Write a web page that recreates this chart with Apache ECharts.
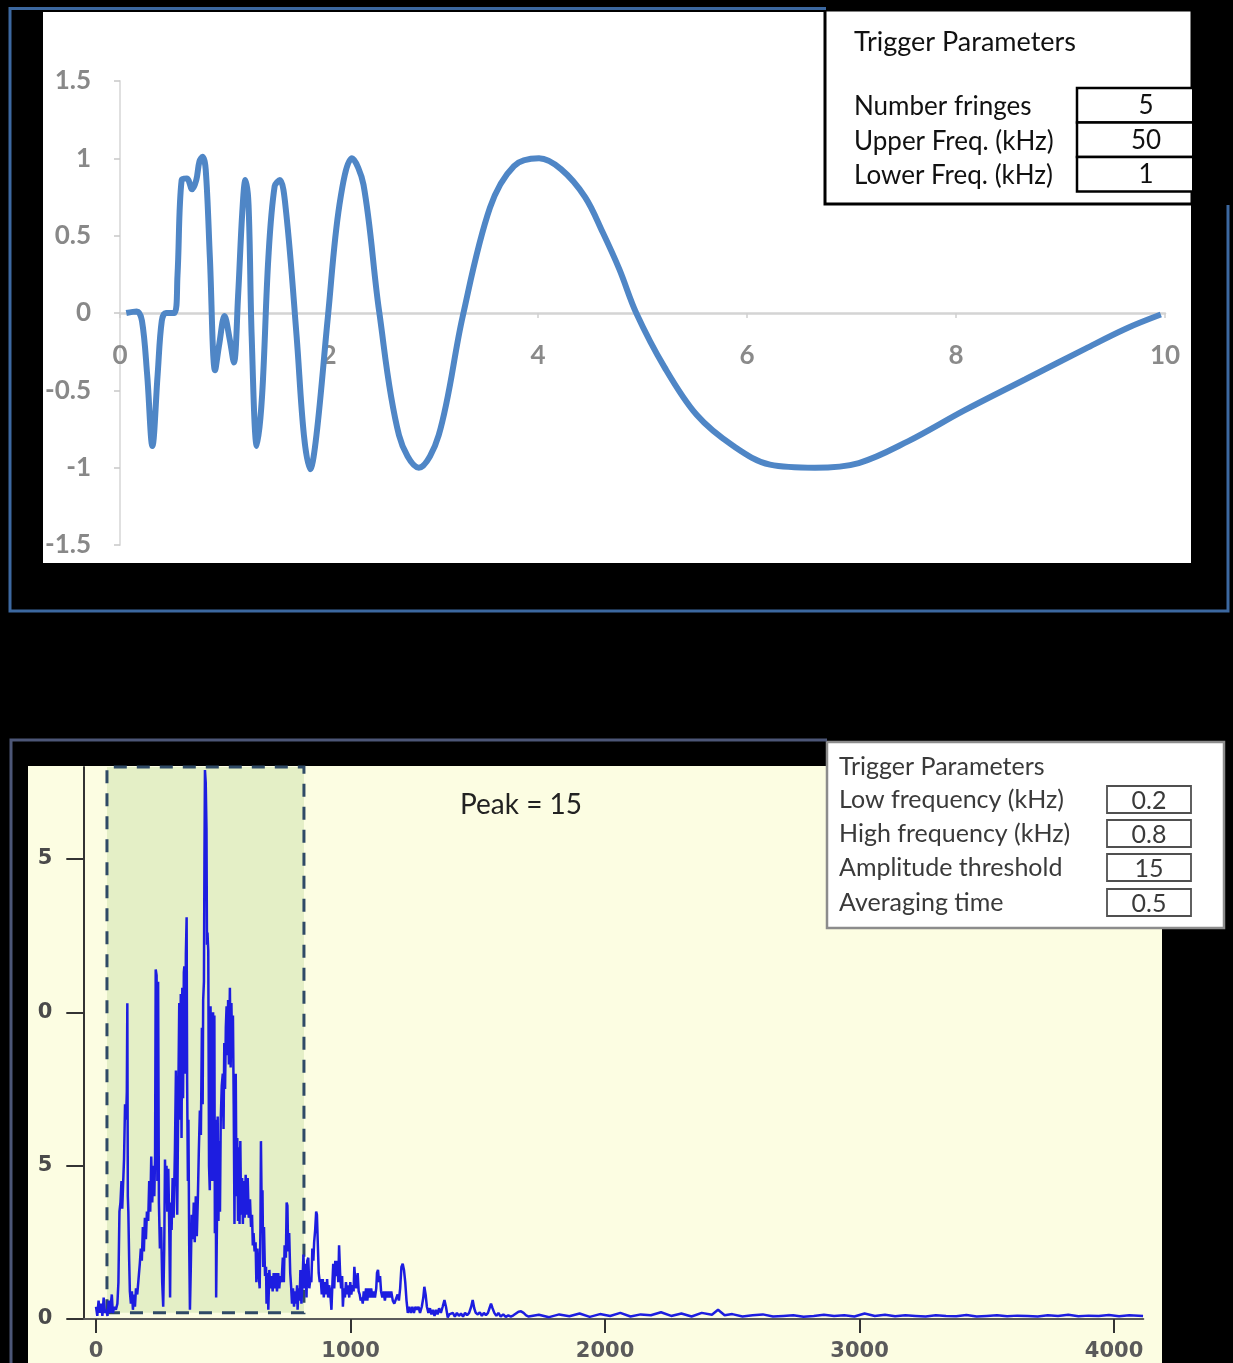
<!DOCTYPE html>
<html>
<head>
<meta charset="utf-8">
<script src="https://cdn.jsdelivr.net/npm/echarts@6/dist/echarts.min.js"></script>
<style>html,body{margin:0;padding:0;background:#000;}#c{width:1233px;height:1363px;}</style>
</head>
<body>
<div id="c"></div>
<script>
// ---- Top chart: trigger waveform (time ms vs amplitude) ----
const chirpPoints = [
  [0.06,0],[0.16,0.01],[0.21,-0.05],[0.26,-0.40],[0.31,-0.86],[0.36,-0.40],[0.40,-0.05],[0.44,0],[0.52,0],
  [0.55,0.24],[0.59,0.86],[0.64,0.87],[0.69,0.80],[0.73,0.86],[0.76,0.98],[0.79,1.01],[0.82,0.93],[0.86,0.36],
  [0.91,-0.37],[0.95,-0.20],[1.00,-0.02],[1.05,-0.17],[1.09,-0.32],[1.13,0.11],[1.17,0.65],[1.20,0.86],[1.23,0.70],
  [1.26,-0.15],[1.31,-0.86],[1.36,-0.53],[1.42,0.36],[1.48,0.82],[1.53,0.86],[1.59,0.65],[1.69,-0.15],[1.76,-0.79],
  [1.82,-1.01],[1.88,-0.79],[1.99,-0.02],[2.10,0.70],[2.22,1.0],[2.33,0.83],[2.48,0.01],[2.67,-0.79],[2.86,-1.0],
  [3.05,-0.79],[3.28,-0.02],[3.54,0.68],[3.77,0.95],[4.01,1.0],[4.22,0.93],[4.45,0.75],[4.62,0.52],[4.78,0.28],
  [4.94,0],[5.21,-0.35],[5.52,-0.66],[5.87,-0.86],[6.22,-0.98],[6.65,-1.0],[7.07,-0.97],[7.54,-0.83],[8.08,-0.63],
  [8.66,-0.43],[9.24,-0.23],[9.63,-0.10],[9.96,-0.01]
];
const topXTicks = [0, 2, 4, 6, 8, 10];
const topYTicks = [-1.5, -1, -0.5, 0, 0.5, 1, 1.5];

// ---- Bottom chart: spectrum (frequency vs amplitude) ----
const spectrumPoints = [
  [0,0.4],[5,0.1],[10,0.6],[15,0.2],[20,0.5],[25,0.1],[30,0.7],[35,0.2],[40,0.3],[45,0.1],[50,0.6],[55,0.2],
  [62,0.8],[66,0.2],[72,0.4],[78,0.3],[84,0.5],[88,1.2],[92,3.5],[96,3.8],[100,4.5],[103,3.6],[106,4.3],[110,5.2],
  [114,7.0],[118,6.5],[121,7.4],[123,10.3],[125,4.0],[127,3.5],[130,2.0],[133,0.9],[137,0.5],[141,0.9],[145,0.3],
  [149,0.8],[153,0.4],[157,1.0],[162,0.8],[167,1.3],[172,1.8],[176,2.3],[180,1.9],[184,3.0],[188,2.2],[192,3.3],
  [196,2.6],[200,3.5],[205,3.2],[209,4.5],[213,3.5],[217,5.3],[221,3.8],[225,5.0],[229,4.0],[232,5.3],[234.5,11.4],
  [238,11.2],[241,4.5],[244,11.0],[247,3.8],[251,2.3],[256,3.0],[260,1.2],[264,0.4],[268,2.3],[271,5.2],[274,3.9],
  [277,5.0],[280,3.5],[284,4.9],[287,3.4],[291,0.7],[294,3.8],[297,2.9],[301,4.6],[305,3.3],[310,5.5],[314,8.1],
  [317,4.5],[319,3.4],[323,7.0],[327,10.3],[330,6.5],[333,10.6],[336,5.9],[339,10.8],[342,7.2],[345,11.3],[347,11.5],
  [350,8.0],[353,11.9],[356,13.1],[358,7.7],[361,4.5],[363,6.5],[366,2.5],[369,0.3],[372,1.5],[376,3.4],[380,2.6],
  [384,3.8],[388,2.5],[392,4.0],[396,2.7],[400,3.9],[404,5.5],[408,6.8],[412,6.0],[416,9.5],[419,7.0],[421,10.4],
  [424,11.0],[426,15.0],[428,17.9],[431,17.5],[434,16.0],[436,12.2],[438,12.6],[441,12.0],[444,5.0],[447,4.2],
  [450,10.2],[452,6.0],[454,9.5],[457,4.5],[460,10.0],[463,5.8],[465,9.9],[467,2.8],[470,6.5],[472,0.7],[475,3.0],
  [478,6.6],[481,3.2],[484,5.8],[487,3.5],[490,6.5],[494,7.6],[498,8.0],[501,6.2],[504,9.0],[507,7.5],[510,9.5],
  [513,10.2],[516,8.6],[519,10.4],[522,8.3],[526,10.8],[529,8.2],[532,10.3],[535,8.5],[538,9.9],[541,7.0],[544,3.1],
  [546,6.5],[549,8.0],[552,4.0],[555,5.9],[558,3.2],[561,5.6],[564,3.1],[567,5.8],[570,3.4],[574,4.6],[577,3.1],
  [580,4.5],[584,3.3],[588,4.7],[592,3.4],[596,4.6],[600,3.3],[605,3.9],[609,3.0],[613,3.4],[616,2.4],[619,2.8],
  [623,2.2],[627,2.5],[630,1.2],[634,2.3],[638,1.6],[643,1.0],[646,3.0],[648,5.8],[651,3.5],[654,4.2],[657,1.7],
  [660,3.0],[664,1.4],[668,1.7],[670,0.5],[674,1.5],[677,0.3],[681,1.6],[685,1.0],[690,1.4],[694,0.9],[698,1.5],
  [702,1.0],[707,1.5],[711,0.9],[716,1.5],[720,1.0],[724,1.4],[729,1.2],[734,2.0],[738,1.2],[741,2.4],[746,2.0],
  [749,3.8],[752,3.7],[755,2.2],[759,2.8],[763,1.5],[767,1.0],[770,0.5],[774,1.0],[778,0.4],[782,0.9],[786,0.5],
  [790,1.1],[792,0.3],[796,1.0],[800,0.6],[803,1.6],[807,0.5],[811,1.2],[815,2.1],[819,1.0],[823,1.8],[827,0.7],
  [830,1.9],[834,2.0],[838,1.0],[842,1.3],[846,1.2],[850,2.3],[854,1.9],[857,2.5],[861,2.9],[865,3.5],[868,3.4],
  [872,2.3],[875,1.5],[879,1.2],[883,1.3],[887,0.8],[891,1.3],[895,0.7],[899,1.2],[904,0.8],[908,1.3],[912,0.7],
  [916,1.1],[920,0.9],[925,0.3],[929,1.2],[932,1.8],[936,1.0],[940,1.9],[944,1.4],[948,1.9],[952,1.2],[955,2.4],
  [959,1.5],[963,1.0],[967,1.4],[970,0.4],[974,1.0],[978,0.7],[982,1.2],[986,0.8],[990,1.1],[995,0.7],[999,1.2],
  [1003,0.8],[1008,1.1],[1012,0.9],[1015,1.7],[1019,1.2],[1023,1.0],[1028,1.5],[1032,0.9],[1036,0.8],[1040,0.6],
  [1044,0.7],[1048,0.5],[1052,0.9],[1056,0.6],[1061,1.0],[1066,0.6],[1071,1.0],[1076,0.7],[1081,1.0],[1086,0.7],
  [1091,0.9],[1096,0.7],[1101,1.0],[1104,1.5],[1108,1.6],[1112,1.2],[1116,1.4],[1120,0.9],[1125,0.7],[1130,0.9],
  [1135,0.6],[1140,0.9],[1145,0.7],[1150,0.9],[1155,0.7],[1160,0.9],[1166,0.6],[1172,0.5],[1179,0.5],[1185,0.8],
  [1190,0.6],[1195,1.0],[1200,1.7],[1205,1.8],[1210,1.6],[1215,1.2],[1220,0.6],[1225,0.2],[1231,0.4],[1237,0.2],
  [1243,0.4],[1249,0.2],[1255,0.4],[1261,0.3],[1267,0.4],[1273,0.2],[1280,0.4],[1286,0.7],[1290,1.05],[1295,0.8],
  [1300,0.4],[1306,0.2],[1312,0.35],[1318,0.15],[1324,0.3],[1330,0.1],[1336,0.3],[1342,0.15],[1348,0.35],[1355,0.2],
  [1362,0.4],[1369,0.62],[1375,0.4],[1382,0.05],[1388,0.15],[1395,0.1],[1402,0.2],[1410,0.08],[1418,0.2],[1426,0.1],
  [1434,0.18],[1442,0.08],[1450,0.2],[1458,0.12],[1466,0.2],[1474,0.4],[1480,0.62],[1486,0.35],[1492,0.2],[1500,0.15],
  [1508,0.22],[1516,0.1],[1524,0.2],[1532,0.12],[1540,0.2],[1546,0.35],[1552,0.5],[1558,0.35],[1565,0.2],[1573,0.1],
  [1581,0.2],[1590,0.08],[1600,0.15],[1610,0.07],[1620,0.12],[1630,0.08],[1640,0.12],[1650,0.18],[1660,0.24],
  [1670,0.25],[1680,0.2],[1690,0.12],[1700,0.08],[1740,0.14],[1780,0.06],[1820,0.15],[1860,0.09],[1900,0.18],
  [1940,0.07],[1980,0.16],[2020,0.1],[2060,0.2],[2100,0.08],[2140,0.15],[2180,0.12],[2220,0.22],[2260,0.1],
  [2300,0.18],[2340,0.08],[2380,0.2],[2420,0.14],[2444,0.3],[2470,0.12],[2500,0.16],[2540,0.08],[2580,0.12],
  [2620,0.15],[2660,0.08],[2700,0.1],[2740,0.12],[2780,0.07],[2820,0.1],[2860,0.14],[2900,0.1],[2940,0.12],
  [2980,0.08],[3020,0.18],[3060,0.1],[3100,0.14],[3140,0.09],[3180,0.12],[3220,0.1],[3260,0.08],[3300,0.12],
  [3340,0.1],[3380,0.09],[3420,0.13],[3460,0.08],[3500,0.1],[3540,0.12],[3580,0.09],[3620,0.11],[3660,0.1],
  [3700,0.08],[3740,0.12],[3780,0.1],[3820,0.14],[3860,0.09],[3900,0.11],[3940,0.1],[3980,0.13],[4020,0.09],
  [4060,0.12],[4114,0.1]
];
const bottomXTicks = [0, 1000, 2000, 3000, 4000];
const bottomYTicks = [0, 5, 10, 15];
const passBand = [43, 817];      // highlighted band (x range)
const passBandY = [0.2, 18];     // highlighted band (y range)
const peakLabel = 'Peak = 15';

// ---- Parameter panels ----
const topParamTitle = 'Trigger Parameters';
const topParamNames = ['Number fringes', 'Upper Freq. (kHz)', 'Lower Freq. (kHz)'];
const topParamValues = ['5', '50', '1'];
const botParamTitle = 'Trigger Parameters';
const botParamNames = ['Low frequency (kHz)', 'High frequency (kHz)', 'Amplitude threshold', 'Averaging time'];
const botParamValues = ['0.2', '0.8', '15', '0.5'];

const chart = echarts.init(document.getElementById('c'), null, {renderer: 'canvas'});

const FONT_BOX = 'Lato, "Open Sans", sans-serif';
const g = [];
// backgrounds
g.push({type: 'rect', z: -1, shape: {x: 43, y: 12, width: 1148, height: 551}, style: {fill: '#ffffff'}});
g.push({type: 'rect', z: -1, shape: {x: 28, y: 766, width: 1134, height: 597}, style: {fill: '#fcfde2'}});
// masks that crop overflowing axis labels at the panel edges
g.push({type: 'rect', z: 50, shape: {x: 12, y: 12, width: 31, height: 552}, style: {fill: '#000'}});
g.push({type: 'rect', z: 50, shape: {x: 13, y: 766, width: 15, height: 597}, style: {fill: '#000'}});
g.push({type: 'rect', z: 50, shape: {x: 28, y: 830, width: 10, height: 200}, style: {fill: '#fcfde2'}});
// frames
g.push({type: 'polyline', z: 60, shape: {points: [[1228, 205], [1228, 611], [10, 611], [10, 8.5], [826, 8.5]]},
  style: {stroke: '#3c68a0', lineWidth: 3, fill: null}});
g.push({type: 'polyline', z: 60, shape: {points: [[11, 1363], [11, 740], [827, 740]]},
  style: {stroke: '#4c5677', lineWidth: 3, fill: null}});

// top parameter box
g.push({type: 'rect', z: 20, shape: {x: 825, y: 10, width: 367, height: 194}, style: {fill: '#fff', stroke: '#000', lineWidth: 3}});
g.push({type: 'text', z: 22, x: 854, y: 42, style: {text: topParamTitle, font: '27px ' + FONT_BOX, fill: '#111', textAlign: 'left', textVerticalAlign: 'middle'}});
const topRowsY = [88, 122.5, 157];
for (let i = 0; i < topParamNames.length; i++) {
  g.push({type: 'text', z: 22, x: 854, y: topRowsY[i] + 19, style: {text: topParamNames[i], font: '26px ' + FONT_BOX, fill: '#111', textAlign: 'left', textVerticalAlign: 'middle'}});
  g.push({type: 'rect', z: 21, shape: {x: 1077, y: topRowsY[i], width: 120, height: 34.5}, style: {fill: '#fff', stroke: '#000', lineWidth: 2.5}});
  g.push({type: 'text', z: 22, x: 1146, y: topRowsY[i] + 18, style: {text: topParamValues[i], font: '26px ' + FONT_BOX, fill: '#111', textAlign: 'center', textVerticalAlign: 'middle'}});
}
g.push({type: 'rect', z: 23, shape: {x: 1192, y: 5, width: 34, height: 202}, style: {fill: '#000'}});

// bottom parameter box
g.push({type: 'rect', z: 20, shape: {x: 827, y: 742, width: 397, height: 186}, style: {fill: '#fff', stroke: '#8c8c8c', lineWidth: 2.5}});
g.push({type: 'text', z: 22, x: 839, y: 767, style: {text: botParamTitle, font: '25px ' + FONT_BOX, fill: '#3a3a3a', textAlign: 'left', textVerticalAlign: 'middle'}});
const botRowsY = [800, 834, 868, 903];
for (let i = 0; i < botParamNames.length; i++) {
  g.push({type: 'text', z: 22, x: 839, y: botRowsY[i], style: {text: botParamNames[i], font: '25px ' + FONT_BOX, fill: '#3a3a3a', textAlign: 'left', textVerticalAlign: 'middle'}});
  g.push({type: 'rect', z: 21, shape: {x: 1107, y: botRowsY[i] - 14, width: 84, height: 27}, style: {fill: '#fff', stroke: '#505050', lineWidth: 1.8}});
  g.push({type: 'text', z: 22, x: 1149, y: botRowsY[i] + 1, style: {text: botParamValues[i], font: '25px ' + FONT_BOX, fill: '#3a3a3a', textAlign: 'center', textVerticalAlign: 'middle'}});
}
// peak label
g.push({type: 'text', z: 22, x: 460, y: 805, style: {text: peakLabel, font: '28px ' + FONT_BOX, fill: '#222', textAlign: 'left', textVerticalAlign: 'middle'}});

const option = {
  backgroundColor: '#000',
  animation: false,
  graphic: {elements: g},
  grid: [
    {left: 120, top: 81, width: 1045, height: 464, containLabel: false},
    {left: 83.3, top: 767, width: 1060, height: 552, containLabel: false}
  ],
  xAxis: [
    {
      type: 'value', gridIndex: 0, min: 0, max: 10, interval: 2, position: 'bottom', offset: -232,
      axisLine: {show: true, onZero: false, lineStyle: {color: '#d4d4d4', width: 2.5}},
      axisTick: {show: true, length: 5, lineStyle: {color: '#d0d0d0', width: 1.5}},
      axisLabel: {show: true, margin: 30, color: '#8a8a8a', fontSize: 26, fontWeight: 'bold', fontFamily: 'Lato, sans-serif',
        customValues: topXTicks},
      splitLine: {show: false}
    },
    {
      type: 'value', gridIndex: 1, min: -50, max: 4115,
      axisLine: {show: true, onZero: false, lineStyle: {color: '#5b5b5b', width: 2}},
      axisTick: {show: true, length: 14, customValues: bottomXTicks, lineStyle: {color: '#333', width: 2}},
      axisLabel: {show: true, margin: 22, color: '#5a5a5a', fontSize: 21, fontWeight: 'bold', fontFamily: '"DejaVu Sans", sans-serif',
        customValues: bottomXTicks, formatter: function (v) { return String(v); }},
      splitLine: {show: false}
    }
  ],
  yAxis: [
    {
      type: 'value', gridIndex: 0, min: -1.5, max: 1.5, interval: 0.5,
      axisLine: {show: true, onZero: false, lineStyle: {color: '#e0e0e0', width: 2}},
      axisTick: {show: true, length: 6, lineStyle: {color: '#c8c8c8', width: 1.5}},
      axisLabel: {show: true, margin: 29, color: '#888888', fontSize: 26, fontWeight: 'bold', fontFamily: 'Lato, sans-serif',
        customValues: topYTicks},
      splitLine: {show: false}
    },
    {
      type: 'value', gridIndex: 1, min: 0, max: 18,
      axisLine: {show: true, onZero: false, lineStyle: {color: '#333', width: 2}},
      axisTick: {show: true, length: 17, customValues: bottomYTicks, lineStyle: {color: '#333', width: 2}},
      axisLabel: {show: true, margin: 31, color: '#4a4a4a', fontSize: 21, fontWeight: 'bold', fontFamily: '"DejaVu Sans", sans-serif',
        customValues: bottomYTicks},
      splitLine: {show: false}
    }
  ],
  series: [
    {
      type: 'line', xAxisIndex: 0, yAxisIndex: 0, data: chirpPoints, showSymbol: false, smooth: 0.35,
      lineStyle: {color: '#4f86c6', width: 6}, z: 3
    },
    {
      type: 'line', xAxisIndex: 1, yAxisIndex: 1, data: spectrumPoints, showSymbol: false, smooth: false,
      lineStyle: {color: '#1d1de0', width: 2.5}, z: 3,
      markArea: {
        silent: true, z: 1,
        itemStyle: {color: '#e4efc6', borderColor: '#2f4a66', borderWidth: 3, borderType: [13, 10]},
        data: [[{coord: [passBand[0], passBandY[0]]}, {coord: [passBand[1], passBandY[1]]}]]
      }
    }
  ]
};
chart.setOption(option);
</script>
</body>
</html>
